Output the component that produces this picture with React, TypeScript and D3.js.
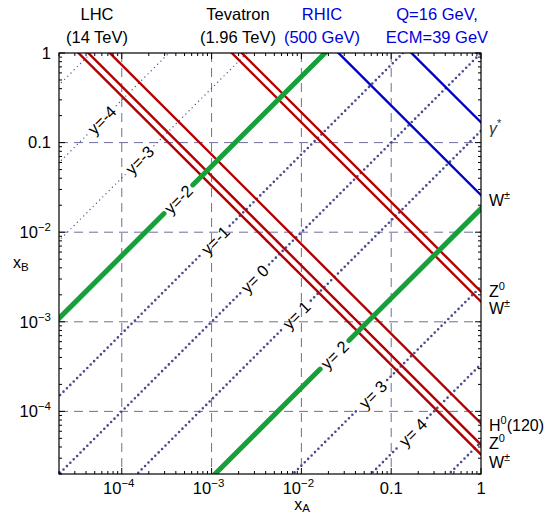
import React from 'react';
import * as d3 from 'd3';

// collider scale lines: x_A * x_B = M^2 / s
const redProducts = [3.3e-5, 4.24e-5, 7.35e-5, 1.68e-3, 2.17e-3];
const blueProducts = [0.0259, 0.168];

// rapidity lines y = 0.5 ln(x_A / x_B)
const thinRapidities = [-5, -4, -3];
const dottedRapidities = [-1, 0, 1, 3, 4, 5];
const greenRapidities = [-2, 2];

const labelRapidity = [-4, -3, -2, -1, 0, 1, 2, 3, 4];
const labelXA = [6.0e-5, 1.58e-4, 4.27e-4, 1.1e-3, 3.02e-3, 8.8e-3, 2.34e-2, 6.24e-2, 0.174];

const gridDecades = [1e-4, 1e-3, 1e-2, 0.1];
const tickValues = [1e-4, 1e-3, 1e-2, 0.1, 1];
const tickBase = ['10', '10', '10', '0.1', '1'];
const tickExp = ['−4', '−3', '−2', '', ''];

const topLabels = [
  { l1: 'LHC', l2: '(14 TeV)', x: 97, c: '#000' },
  { l1: 'Tevatron', l2: '(1.96 TeV)', x: 238, c: '#000' },
  { l1: 'RHIC', l2: '(500 GeV)', x: 322, c: '#0000dd' },
  { l1: 'Q=16 GeV,', l2: 'ECM=39 GeV', x: 437, c: '#0000dd' },
];

// right side labels: [base, superscript, tail, x_B position]
const sideLabels: [string, string, string, number][] = [
  ['γ', '*', '', 0.145],
  ['W', '±', '', 0.0225],
  ['Z', '0', '', 2.17e-3],
  ['W', '±', '', 1.4e-3],
  ['H', '0', '(120)', 7.05e-5],
  ['Z', '0', '', 4.4e-5],
  ['W', '±', '', 2.7e-5],
];

const font = '"Liberation Sans", Arial, sans-serif';
const fs = 16.5;
const sup = 11.5;

export default function App() {
  const width = 552;
  const height = 515;
  const x = d3.scaleLog().domain([2e-5, 1]).range([59, 481]);
  const y = d3.scaleLog().domain([2e-5, 1]).range([474, 53]);
  const [x0, x1] = x.range();
  const [y1, y0] = y.range();

  const seg = (pts: [number, number][]) => d3.line<[number, number]>().x(d => x(d[0])).y(d => y(d[1]))(pts) || '';

  const rapLine = (r: number, from: number, to: number) => {
    const k = Math.exp(-2 * r);
    return seg([[from, from * k], [to, to * k]]);
  };
  const gap = Math.pow(10, 0.16);
  const rapPaths = (r: number) => {
    const i = labelRapidity.indexOf(r);
    if (i < 0) return [rapLine(r, 1e-9, 100)];
    return [rapLine(r, 1e-9, labelXA[i] / gap), rapLine(r, labelXA[i] * gap, 100)];
  };
  const prodLine = (p: number) => seg([[1e-9, p / 1e-9], [100, p / 100]]);

  const minors: number[] = [];
  for (let e = -5; e < 0; e++) for (let m = 1; m < 10; m++) {
    const v = m * Math.pow(10, e);
    if (v >= 2e-5 && v <= 1) minors.push(v);
  }
  minors.push(1);

  return (
    <svg width={width} height={height} style={{ position: 'absolute', left: 0, top: 0, background: '#fff' }} fontFamily={font}>
      <defs>
        <clipPath id="plot"><rect x={x0} y={y0} width={x1 - x0} height={y1 - y0} /></clipPath>
      </defs>
      <g clipPath="url(#plot)">
        {gridDecades.map(v => (
          <g key={v} stroke="#6e6e9a" strokeWidth={1} strokeDasharray="9,6">
            <line x1={x(v)} x2={x(v)} y1={y0} y2={y1} />
            <line x1={x0} x2={x1} y1={y(v)} y2={y(v)} />
          </g>
        ))}
        {thinRapidities.map(r => rapPaths(r).map((d, j) => (
          <path key={`t${r}${j}`} d={d} fill="none" stroke="#5050a0" strokeWidth={1.4} strokeDasharray="0,4.5" strokeLinecap="round" />
        )))}
        {dottedRapidities.map(r => rapPaths(r).map((d, j) => (
          <path key={`d${r}${j}`} d={d} fill="none" stroke="#4a4a8c" strokeWidth={2.6} strokeDasharray="0,4.8" strokeLinecap="round" />
        )))}
        {redProducts.map(p => (
          <path key={`r${p}`} d={prodLine(p)} fill="none" stroke="#b40000" strokeWidth={2.4} />
        ))}
        {blueProducts.map(p => (
          <path key={`b${p}`} d={prodLine(p)} fill="none" stroke="#0000cc" strokeWidth={2.4} />
        ))}
        {greenRapidities.map(r => rapPaths(r).map((d, j) => (
          <path key={`g${r}${j}`} d={d} fill="none" stroke="#17a03a" strokeWidth={5} strokeLinecap="round" />
        )))}
      </g>
      {labelRapidity.map((r, i) => {
        const k = Math.exp(-2 * r);
        const px = x(labelXA[i]);
        const py = y(labelXA[i] * k);
        return (
          <text key={`l${r}`} transform={`translate(${px},${py}) rotate(-45)`} textAnchor="middle" dy="0.36em" fontSize={fs} fill="#000">
            {r < 0 ? `y=-${-r}` : `y=\u00a0${r}`}
          </text>
        );
      })}
      <rect x={x0} y={y0} width={x1 - x0} height={y1 - y0} fill="none" stroke="#000" strokeWidth={1.2} />
      <g stroke="#000" strokeWidth={1}>
        {minors.map(v => {
          const major = Math.abs(Math.log10(v) - Math.round(Math.log10(v))) < 1e-9;
          const len = major ? 6 : 3;
          return (
            <g key={`m${v}`}>
              <line x1={x(v)} x2={x(v)} y1={y1} y2={y1 - len} />
              <line x1={x(v)} x2={x(v)} y1={y0} y2={y0 + len} />
              <line y1={y(v)} y2={y(v)} x1={x0} x2={x0 + len} />
              <line y1={y(v)} y2={y(v)} x1={x1} x2={x1 - len} />
            </g>
          );
        })}
      </g>
      {tickValues.map((v, i) => (
        <g key={`tx${v}`} fontSize={fs}>
          <text x={x(v) + (tickExp[i] ? -3 : 0)} y={494} textAnchor="middle">
            {tickBase[i]}
            {tickExp[i] && <tspan dy={-7} fontSize={sup}>{tickExp[i]}</tspan>}
          </text>
          <text x={51} y={y(v)} dy="0.35em" textAnchor="end">
            {tickBase[i]}
            {tickExp[i] && <tspan dy={-7} fontSize={sup}>{tickExp[i]}</tspan>}
          </text>
        </g>
      ))}
      <text x={302} y={510} fontSize={16} textAnchor="middle">x<tspan dy={2} fontSize={sup}>A</tspan></text>
      <text x={13} y={268} fontSize={16}>x<tspan dy={3} fontSize={sup}>B</tspan></text>
      {topLabels.map(t => (
        <g key={t.l1} fontSize={fs} fill={t.c} textAnchor="middle">
          <text x={t.x} y={20}>{t.l1}</text>
          <text x={t.x} y={43}>{t.l2}</text>
        </g>
      ))}
      {sideLabels.map(([b, s, tail, v], i) => (
        <text key={`s${i}`} x={489} y={y(v)} dy="0.35em" fontSize={16} fill={b === 'γ' ? '#333' : '#000'}>
          <tspan fontStyle={b === 'γ' ? 'italic' : 'normal'}>{b}</tspan>
          <tspan dy={-7} fontSize={11}>{s}</tspan>
          {tail && <tspan dy={7}>{tail}</tspan>}
        </text>
      ))}
    </svg>
  );
}
